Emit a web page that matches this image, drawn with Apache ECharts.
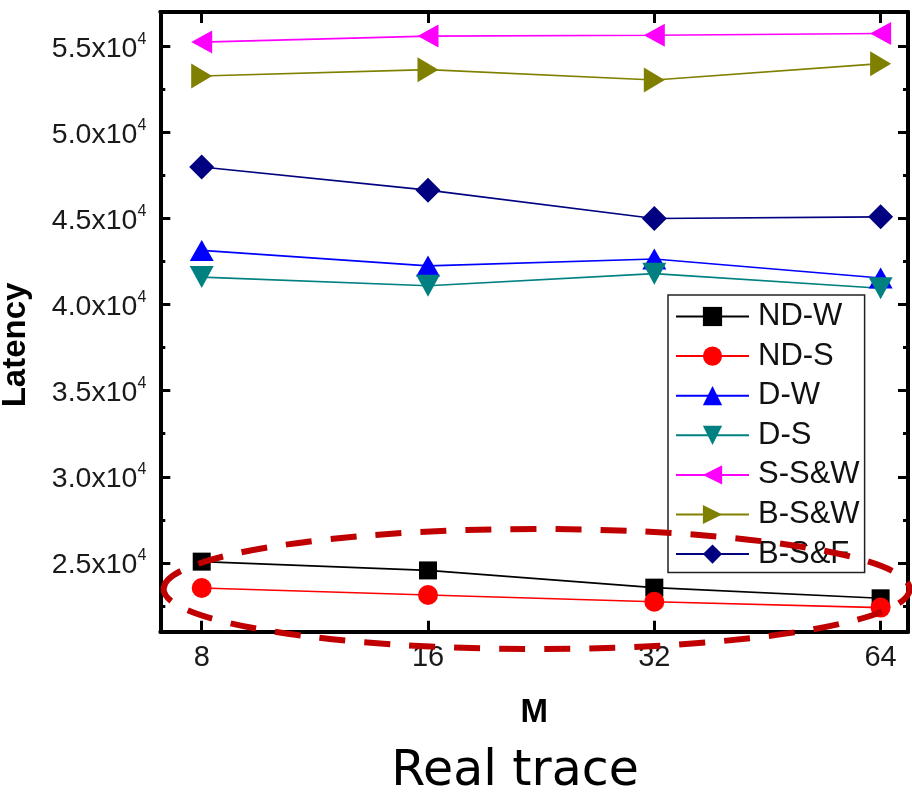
<!DOCTYPE html>
<html>
<head>
<meta charset="utf-8">
<script src="https://cdn.jsdelivr.net/npm/echarts@6/dist/echarts.min.js"></script>
<style>
  html, body { margin: 0; padding: 0; background: #fff; }
  #chart { width: 912px; height: 796px; }
</style>
</head>
<body>
<div id="chart"></div>
<script>
// Latency against M for each scheme (real trace)
const categories = ['8', '16', '32', '64'];
const seriesNames = ['ND-W', 'ND-S', 'D-W', 'D-S', 'S-S&W', 'B-S&W', 'B-S&F'];
const ndW  = [25070, 24560, 23560, 22940];
const ndS  = [23540, 23130, 22740, 22400];
const dW   = [43150, 42250, 42650, 41550];
const dS   = [41600, 41100, 41800, 40950];
const sSW  = [55250, 55600, 55650, 55750];
const bSW  = [53280, 53650, 53050, 54000];
const bSF  = [48000, 46650, 45000, 45100];
const yMajorTicks = [25000, 30000, 35000, 40000, 45000, 50000, 55000];
const yMinorTicks = [22500, 27500, 32500, 37500, 42500, 47500, 52500];

const FONT = 'Liberation Sans, Arial, sans-serif';
const positions = categories.map((_, i) => i);
const pairs = vals => vals.map((v, i) => [positions[i], v]);

const styles = [
  { color: '#000000', symbol: 'rect',     size: [18, 18], rotate: 0 },
  { color: '#ff0000', symbol: 'circle',   size: [20, 20], rotate: 0 },
  { color: '#0000ff', symbol: 'triangle', size: [24, 21], rotate: 0 },
  { color: '#008080', symbol: 'triangle', size: [24, 22], rotate: 180 },
  { color: '#ff00ff', symbol: 'triangle', size: [23, 21], rotate: 90 },
  { color: '#808000', symbol: 'triangle', size: [25, 21], rotate: -90 },
  { color: '#000080', symbol: 'diamond',  size: [25, 25], rotate: 0 }
];
const values = [ndW, ndS, dW, dS, sSW, bSW, bSF];

const chart = echarts.init(document.getElementById('chart'), null, { renderer: 'canvas' });

const X_MIN = -0.183, X_MAX = 3.121, Y_MIN = 21000, Y_MAX = 57000;
const axisLine = { show: true, onZero: false, lineStyle: { color: '#000', width: 4 } };

function yAxisDef(position, ticks, len, withLabels) {
  return {
    type: 'value', position, min: Y_MIN, max: Y_MAX,
    axisLine,
    splitLine: { show: false },
    axisTick: { show: true, inside: true, length: len, customValues: ticks,
                lineStyle: { color: '#000', width: 3 } },
    axisLabel: withLabels ? {
      show: true, margin: 14, customValues: ticks,
      formatter: v => '{a|' + (v / 10000).toFixed(1) + 'x10}{b|4}',
      rich: {
        a: { fontFamily: FONT, fontSize: 28.5, color: '#1a1a1a', lineHeight: 30, padding: [5, 0, 0, 0] },
        b: { fontFamily: FONT, fontSize: 16, color: '#1a1a1a', lineHeight: 20, verticalAlign: 'top' }
      }
    } : { show: false }
  };
}

function xAxisDef(position, withLabels) {
  const def = {
    type: 'value', position, min: X_MIN, max: X_MAX,
    axisLine,
    splitLine: { show: false },
    axisTick: { show: true, inside: true, length: 11, customValues: positions,
                lineStyle: { color: '#000', width: 3 } },
    axisLabel: withLabels ? {
      show: true, margin: 12, customValues: positions,
      formatter: v => categories[Math.round(v)],
      fontFamily: FONT, fontSize: 29, color: '#1a1a1a'
    } : { show: false }
  };
  if (withLabels) {
    def.name = 'M';
    def.nameLocation = 'middle';
    def.nameGap = 65;
    def.nameTextStyle = { fontFamily: FONT, fontSize: 33, fontWeight: 'bold', color: '#000' };
  }
  return def;
}

chart.setOption({
  animation: false,
  backgroundColor: '#fff',
  grid: { left: 160.3, right: 4, top: 12, bottom: 164.3 },
  xAxis: [xAxisDef('bottom', true), xAxisDef('top', false)],
  yAxis: [
    yAxisDef('left', yMajorTicks, 10, true),
    yAxisDef('left', yMinorTicks, 5, false),
    yAxisDef('right', yMajorTicks, 10, false),
    yAxisDef('right', yMinorTicks, 5, false)
  ],
  legend: {
    orient: 'vertical',
    left: 668, top: 295,
    padding: [6, 5, 3, 7],
    itemWidth: 73, itemHeight: 24, itemGap: 8.6,
    backgroundColor: '#fff',
    borderColor: '#222', borderWidth: 1.5, borderRadius: 0,
    selectedMode: false,
    textStyle: { fontFamily: FONT, fontSize: 31, color: '#111', lineHeight: 30, padding: [0, 0, 0, 4] },
    data: seriesNames
  },
  series: seriesNames.map((name, i) => ({
    name, type: 'line',
    xAxisIndex: 0, yAxisIndex: 0,
    data: pairs(values[i]),
    symbol: styles[i].symbol,
    symbolSize: styles[i].size,
    symbolRotate: styles[i].rotate,
    showAllSymbol: true,
    lineStyle: { color: styles[i].color, width: 1.6 },
    itemStyle: { color: styles[i].color, borderWidth: 0 },
    emphasis: { disabled: true }
  }))
});

// Dashed ring around the two lowest curves, anchored in data space
const ringCenter = chart.convertToPixel({ xAxisIndex: 0, yAxisIndex: 0 }, [1.48, 23480]);
chart.setOption({
  graphic: [
    {
      type: 'ellipse', z: 100,
      shape: { cx: ringCenter[0], cy: ringCenter[1], rx: 373, ry: 60 },
      style: { fill: 'none', stroke: '#c00000', lineWidth: 6, lineDash: [26, 19] }
    },
    {
      type: 'text', z: 100, x: 16, y: 345, rotation: Math.PI / 2,
      style: { text: 'Latency', font: 'bold 33px ' + FONT, fill: '#000', align: 'center', verticalAlign: 'middle' }
    },
    {
      type: 'text', z: 100, x: 515, y: 772,
      style: { text: 'Real trace', font: '49px DejaVu Sans, sans-serif', fill: '#000', align: 'center', verticalAlign: 'middle' }
    }
  ]
});
</script>
</body>
</html>
